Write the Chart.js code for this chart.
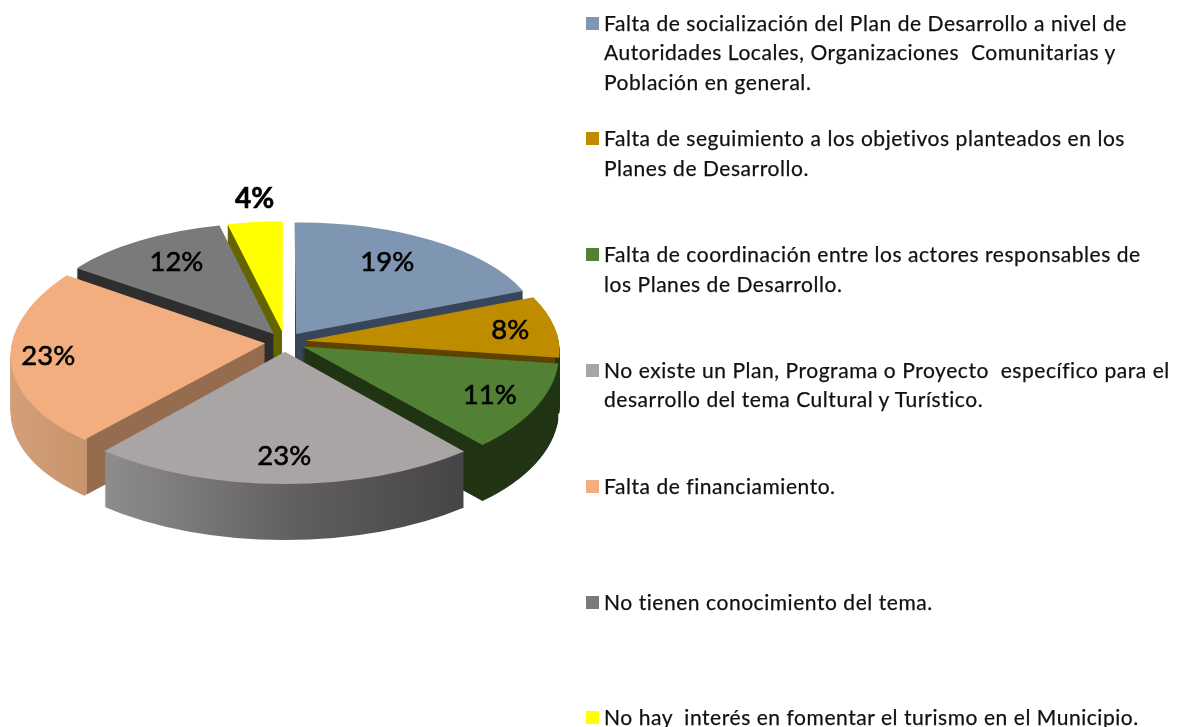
<!DOCTYPE html>
<html>
<head>
<meta charset="utf-8">
<script src="https://cdn.jsdelivr.net/npm/chart.js@4/dist/chart.umd.js"></script>
<style>
	body { margin: 0; background: #fff; }
	#chart { position: absolute; left: 0; top: 0; }
	.item { position: absolute; left: 604px; font: 21px/29.5px Lato, sans-serif; letter-spacing: 0.55px; -webkit-text-stroke: 0.25px #111; color: #111; white-space: pre; }
	.item i { position: absolute; left: -18px; top: 9px; width: 13px; height: 13px; -webkit-text-stroke: 0; }
</style>
</head>
<body>
<canvas id="chart" width="1179" height="727"></canvas>
<div id="legend"></div>
<script>
const categories = [
	["Falta de socialización del Plan de Desarrollo a nivel de", "Autoridades Locales, Organizaciones  Comunitarias y", "Población en general."],
	["Falta de seguimiento a los objetivos planteados en los", "Planes de Desarrollo."],
	["Falta de coordinación entre los actores responsables de", "los Planes de Desarrollo."],
	["No existe un Plan, Programa o Proyecto  específico para el", "desarrollo del tema Cultural y Turístico."],
	["Falta de financiamiento."],
	["No tienen conocimiento del tema."],
	["No hay  interés en fomentar el turismo en el Municipio."],
];
const values = [19, 8.2, 11.4, 22.9, 23.2, 11.5, 3.8];
const colors = ["#7f96b2", "#bf8c00", "#528035", "#a9a5a5", "#f2ae7f", "#7a7a7a", "#ffff00"];

// side walls: plain colour, or a gradient running across the screen in x
const walls = [
	"#39465a",
	{ x0: 300, x1: 560, stops: [[0, "#5d4200"], [0.98, "#5d4200"], [0.98, "#213514"], [1, "#213514"]] },
	"#213514",
	{ x0: 106, x1: 465, stops: [[0, "#8f8d8c"], [0.55, "#5f5d5d"], [1, "#464445"]] },
	{ x0: 12, x1: 162, stops: [[0, "#d39f78"], [0.5, "#c8946c"], [0.5, "#966c4e"], [1, "#966c4e"]] },
	"#2f2f2f",
	"#666600",
];

// where each percent sits, as a share of the radius and a turn in degrees off the slice middle
const labelPull = [0.81, 0.9, 0.885, 0.87, 0.93, 0.83, 1.3];
const labelTurn = [-2.5, 0.5, 0, 0, 0, 1.4, 1];

const tilt = 0.48;
const perspective = 0.000322;
const explode = 20;
const depth = 56;
const cornerWeight = 6;

function project(cx, cy, px, py) {
	const w = 1 / (1 - perspective * py);
	return { x: cx + px * w, y: cy + tilt * py * w };
}

// best affine map from a flat slice to the tilted pie: tip fixed, fitted over points along the rim
function sliceMatrix(arc) {
	const r = arc.outerRadius;
	const mid = (arc.startAngle + arc.endAngle) / 2;
	const tx = explode * Math.cos(mid);
	const ty = explode * Math.sin(mid);
	const tip = project(arc.x, arc.y, tx, ty);
	let uu = 0, uv = 0, vv = 0, xu = 0, xv = 0, yu = 0, yv = 0;
	for (let s = 0; s <= 4; s++) {
		const angle = arc.startAngle + (arc.endAngle - arc.startAngle) * s / 4;
		const u = r * Math.cos(angle);
		const v = r * Math.sin(angle);
		const p = project(arc.x, arc.y, tx + u, ty + v);
		const k = s === 0 || s === 4 ? cornerWeight : 1;
		uu += k * u * u; uv += k * u * v; vv += k * v * v;
		xu += k * (p.x - tip.x) * u; xv += k * (p.x - tip.x) * v;
		yu += k * (p.y - tip.y) * u; yv += k * (p.y - tip.y) * v;
	}
	const det = uu * vv - uv * uv;
	const a = (xu * vv - xv * uv) / det;
	const c = (xv * uu - xu * uv) / det;
	const b = (yu * vv - yv * uv) / det;
	const d = (yv * uu - yu * uv) / det;
	const corner = angle => tip.x + r * (a * Math.cos(angle) + c * Math.sin(angle));
	return {
		a, b, c, d,
		e: tip.x - a * arc.x - c * arc.y,
		f: tip.y - b * arc.x - d * arc.y,
		tip,
		x1: corner(arc.startAngle),
		x2: corner(arc.endAngle),
	};
}

function wallFill(ctx, arc, m, wall) {
	if (typeof wall === "string") {
		return wall;
	}
	const n = m.a * m.a + m.c * m.c;
	const s0 = (wall.x0 - m.tip.x) / n;
	const s1 = (wall.x1 - m.tip.x) / n;
	const g = ctx.createLinearGradient(arc.x + m.a * s0, arc.y + m.c * s0, arc.x + m.a * s1, arc.y + m.c * s1);
	wall.stops.forEach(s => g.addColorStop(s[0], s[1]));
	return g;
}

// the two edges that stand straight up the screen would leave a fringe of stacked wall copies
function clipStraightEdge(ctx, chart, arc, m) {
	const top = -Math.PI / 2;
	if (Math.abs(arc.startAngle - top) < 1e-6) {
		const x = Math.ceil(Math.min(m.tip.x, m.x1));
		ctx.beginPath();
		ctx.rect(x, 0, chart.width - x, chart.height);
		ctx.clip();
	}
	if (Math.abs(arc.endAngle - top - Math.PI * 2) < 1e-6) {
		ctx.beginPath();
		ctx.rect(0, 0, Math.floor(Math.max(m.tip.x, m.x2)), chart.height);
		ctx.clip();
	}
}

const tiltedPie = {
	id: "tiltedPie",
	beforeDatasetsDraw(chart) {
		const ctx = chart.ctx;
		const arcs = chart.getDatasetMeta(0).data;
		const order = arcs.map((arc, i) => i).sort((i, j) => {
			return Math.sin((arcs[i].startAngle + arcs[i].endAngle) / 2) - Math.sin((arcs[j].startAngle + arcs[j].endAngle) / 2);
		});
		order.forEach(i => {
			const arc = arcs[i];
			const m = sliceMatrix(arc);
			const shell = Object.create(arc);
			ctx.save();
			clipStraightEdge(ctx, chart, arc, m);
			for (let y = depth; y > 0; y--) {
				ctx.save();
				ctx.translate(0, y);
				ctx.transform(m.a, m.b, m.c, m.d, m.e, m.f);
				shell.options = { ...arc.options, backgroundColor: wallFill(ctx, arc, m, walls[i]) };
				shell.draw(ctx);
				ctx.restore();
			}
			ctx.restore();
		});
		order.forEach(i => {
			const m = sliceMatrix(arcs[i]);
			ctx.save();
			ctx.transform(m.a, m.b, m.c, m.d, m.e, m.f);
			arcs[i].draw(ctx);
			ctx.restore();
		});
		return false;
	},
	// returning false above skips afterDatasetsDraw, so the labels go here
	afterDraw(chart) {
		const ctx = chart.ctx;
		chart.getDatasetMeta(0).data.forEach((arc, i) => {
			const angle = (arc.startAngle + arc.endAngle) / 2 + labelTurn[i] * Math.PI / 180;
			const r = arc.outerRadius * labelPull[i];
			const p = project(arc.x, arc.y, r * Math.cos(angle), r * Math.sin(angle));
			const text = Math.round(values[i]) + "%";
			ctx.save();
			ctx.font = i === 6 ? "bold 28px Lato, sans-serif" : "27.5px Lato, sans-serif";
			ctx.fillStyle = "#000";
			ctx.strokeStyle = "#000";
			ctx.lineWidth = 0.6;
			ctx.textAlign = "center";
			ctx.textBaseline = "middle";
			ctx.fillText(text, p.x, p.y);
			ctx.strokeText(text, p.x, p.y);
			ctx.restore();
		});
	},
};

new Chart(document.getElementById("chart"), {
	type: "pie",
	data: {
		labels: categories,
		datasets: [{ data: values, backgroundColor: colors, borderWidth: 0, clip: false }],
	},
	options: {
		responsive: false,
		animation: false,
		layout: { padding: { left: 31, top: 88, right: 640, bottom: 131 } },
		plugins: { legend: { display: false }, tooltip: { enabled: false } },
	},
	plugins: [tiltedPie],
});

// the wrapped legend is built from the same arrays
const legend = document.getElementById("legend");
categories.forEach((lines, i) => {
	const item = document.createElement("div");
	item.className = "item";
	item.style.top = (7.5 + i * 115.8) + "px";
	item.textContent = lines.join("\n");
	const box = document.createElement("i");
	box.style.background = colors[i];
	item.appendChild(box);
	legend.appendChild(item);
});
</script>
</body>
</html>
